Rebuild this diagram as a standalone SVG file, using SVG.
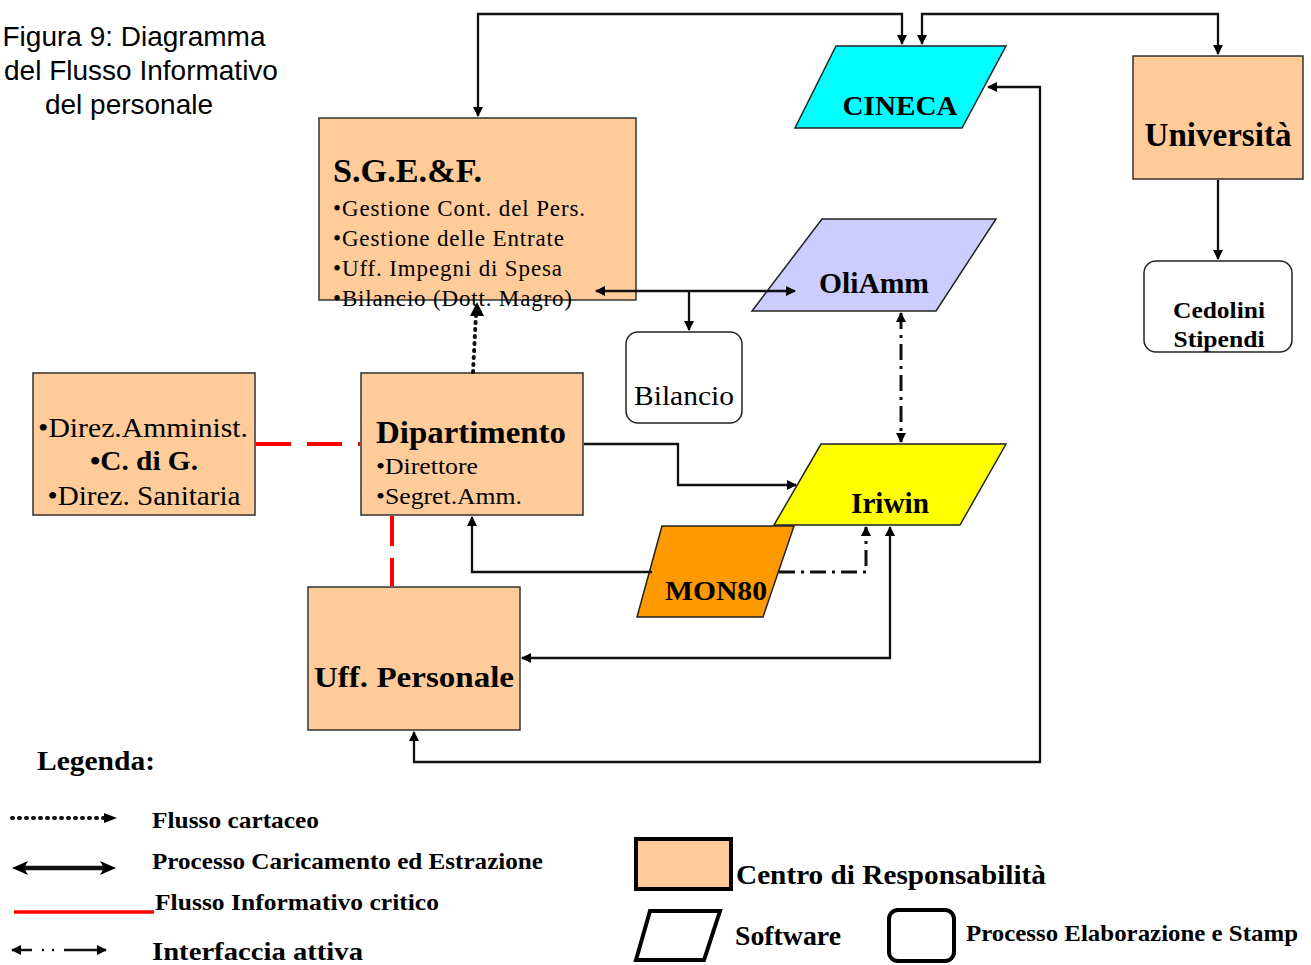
<svg xmlns="http://www.w3.org/2000/svg" width="1311" height="965" viewBox="0 0 1311 965">
<style>
.cr{fill:#FFCC99;stroke:#333;stroke-width:1.5}
.sw{stroke:#222;stroke-width:1.5}
.pr{fill:#fff;stroke:#222;stroke-width:1.5}
.t{font-family:"Liberation Serif",serif;fill:#000}
.b{font-weight:bold}
.ln{fill:none;stroke:#111;stroke-width:2.3}
.red{fill:none;stroke:#f00;stroke-width:4}
.dd{stroke-dasharray:16 6 3 6;stroke-width:3}
.dot{stroke-dasharray:1 6;stroke-linecap:round;stroke-width:4}
</style>
<defs>
<marker id="ah" viewBox="0 0 10 10" refX="9" refY="5" markerWidth="12" markerHeight="10" markerUnits="userSpaceOnUse" orient="auto-start-reverse">
<path d="M0,0 L10,5 L0,10 Z" fill="#000"/>
</marker>
<marker id="ahb" viewBox="0 0 10 10" refX="9" refY="5" markerWidth="16" markerHeight="13" markerUnits="userSpaceOnUse" orient="auto-start-reverse">
<path d="M0,0 L10,5 L0,10 L3,5 Z" fill="#000"/>
</marker>
</defs>
<rect width="1311" height="965" fill="#fff"/>
<g id="title" font-family="Liberation Sans, Arial, sans-serif" font-size="28" text-anchor="middle" fill="#000">
<text x="134" y="46">Figura 9: Diagramma</text>
<text x="141" y="80">del Flusso Informativo</text>
<text x="129" y="114">del personale</text>
</g>
<g id="sgef">
<rect class="cr" x="319" y="118" width="317" height="182"/>
<text class="t b" x="333" y="182" font-size="33" textLength="149" lengthAdjust="spacingAndGlyphs">S.G.E.&amp;F.</text>
<g class="t" font-size="23">
<text x="333" y="216" textLength="252">•Gestione Cont. del Pers.</text>
<text x="333" y="246" textLength="231">•Gestione delle Entrate</text>
<text x="333" y="276" textLength="229">•Uff. Impegni di Spesa</text>
<text x="333" y="306" textLength="239">•Bilancio (Dott. Magro)</text>
</g>
</g>
<g id="cineca">
<path class="sw" d="M836,46 H1006 L962,128 H795 Z" fill="#00FFFF"/>
<text class="t b" x="900" y="115" font-size="28" text-anchor="middle" textLength="115" lengthAdjust="spacingAndGlyphs">CINECA</text>
</g>
<g id="universita">
<rect class="cr" x="1133" y="56" width="170" height="123"/>
<text class="t b" x="1218" y="146" font-size="33" text-anchor="middle" textLength="147" lengthAdjust="spacingAndGlyphs">Università</text>
</g>
<g id="cedolini">
<rect class="pr" x="1144" y="261" width="148" height="91" rx="12"/>
<text class="t b" x="1219" y="318" font-size="24" text-anchor="middle" textLength="92" lengthAdjust="spacingAndGlyphs">Cedolini</text>
<text class="t b" x="1219" y="347" font-size="24" text-anchor="middle" textLength="91" lengthAdjust="spacingAndGlyphs">Stipendi</text>
</g>
<g id="oliamm">
<path class="sw" d="M822,219 H996 L936,311 H752 Z" fill="#CCCCFF"/>
<text class="t b" x="874" y="293" font-size="29" text-anchor="middle" textLength="110" lengthAdjust="spacingAndGlyphs">OliAmm</text>
</g>
<g id="bilancio">
<rect class="pr" x="626" y="332" width="116" height="91" rx="12"/>
<text class="t" x="684" y="405" font-size="27" text-anchor="middle" textLength="100" lengthAdjust="spacingAndGlyphs">Bilancio</text>
</g>
<g id="iriwin">
<path class="sw" d="M821,444 H1006 L960,525 H774 Z" fill="#FFFF00"/>
<text class="t b" x="890" y="513" font-size="29" text-anchor="middle" textLength="78" lengthAdjust="spacingAndGlyphs">Iriwin</text>
</g>
<g id="direzioni">
<rect class="cr" x="33" y="373" width="222" height="142"/>
<text class="t" x="143" y="437" font-size="27" text-anchor="middle" textLength="210" lengthAdjust="spacingAndGlyphs">•Direz.Amminist.</text>
<text class="t b" x="144" y="470" font-size="27" text-anchor="middle" textLength="108" lengthAdjust="spacingAndGlyphs">•C. di G.</text>
<text class="t" x="144" y="505" font-size="27" text-anchor="middle" textLength="193" lengthAdjust="spacingAndGlyphs">•Direz. Sanitaria</text>
</g>
<g id="dipartimento">
<rect class="cr" x="361" y="373" width="222" height="142"/>
<text class="t b" x="376" y="443" font-size="32" textLength="190" lengthAdjust="spacingAndGlyphs">Dipartimento</text>
<text class="t" x="376" y="474" font-size="23" textLength="102" lengthAdjust="spacingAndGlyphs">•Direttore</text>
<text class="t" x="376" y="504" font-size="23" textLength="146" lengthAdjust="spacingAndGlyphs">•Segret.Amm.</text>
</g>
<g id="mon80">
<path class="sw" d="M662,526 H794 L763,617 H637 Z" fill="#FF9900"/>
<text class="t b" x="716" y="600" font-size="28" text-anchor="middle" textLength="102" lengthAdjust="spacingAndGlyphs">MON80</text>
</g>
<g id="uffpersonale">
<rect class="cr" x="308" y="587" width="212" height="143"/>
<text class="t b" x="414" y="687" font-size="30" text-anchor="middle" textLength="200" lengthAdjust="spacingAndGlyphs">Uff. Personale</text>
</g>
<g id="connectors">
<path class="ln" d="M478,116 V14 H902 V44" marker-start="url(#ah)" marker-end="url(#ah)"/>
<path class="ln" d="M922,44 V14 H1218 V54" marker-start="url(#ah)" marker-end="url(#ah)"/>
<path class="ln" d="M1218,180 V259" marker-end="url(#ah)"/>
<path class="ln" d="M988,87 H1040 V762 H414 V732" marker-start="url(#ah)" marker-end="url(#ah)"/>
<path class="ln" d="M596,291 H795" stroke-width="2.8" marker-start="url(#ah)" marker-end="url(#ah)"/>
<path class="ln" d="M689,291 V330" stroke-width="2" marker-end="url(#ah)"/>
<path class="ln dd" d="M901,313 V442" marker-start="url(#ah)" marker-end="url(#ah)"/>
<path class="ln" d="M584,444 H678 V485 H796" marker-end="url(#ah)"/>
<path class="ln" d="M652,572 H472 V517" marker-end="url(#ah)"/>
<path class="ln dd" d="M779,572 H866 V527" marker-end="url(#ah)"/>
<path class="ln" d="M522,658 H890 V527" marker-start="url(#ah)" marker-end="url(#ah)"/>
<path class="ln dot" d="M473,372 L476,314"/>
<path d="M470,316 L477,302 L484,316 Z" fill="#000"/>
<path class="red" d="M256,444 H360" stroke-dasharray="35 16"/>
<path class="red" d="M392,516 V586" stroke-dasharray="30 12"/>
</g>
<g id="legend">
<text class="t b" x="37" y="770" font-size="27" textLength="118" lengthAdjust="spacingAndGlyphs">Legenda:</text>
<path class="ln dot" d="M12,818 H104" stroke-width="3.5"/>
<path d="M104,813 L117,818 L104,823 Z" fill="#000"/>
<text class="t b" x="152" y="828" font-size="23" textLength="167" lengthAdjust="spacingAndGlyphs">Flusso cartaceo</text>
<path d="M22,868 H106" stroke="#111" stroke-width="4.5"/>
<path d="M12,868 L28,861 L24,868 L28,875 Z M116,868 L100,861 L104,868 L100,875 Z" fill="#000"/>
<text class="t b" x="152" y="869" font-size="23" textLength="391" lengthAdjust="spacingAndGlyphs">Processo Caricamento ed Estrazione</text>
<path d="M14,912 H154" stroke="#f00" stroke-width="3.5"/>
<text class="t b" x="155" y="910" font-size="23" textLength="284" lengthAdjust="spacingAndGlyphs">Flusso Informativo critico</text>
<path class="ln" d="M12,950 H106" stroke-width="2.5" stroke-dasharray="20 10 2 8 2 10 42" marker-start="url(#ah)" marker-end="url(#ah)"/>
<text class="t b" x="152" y="960" font-size="25" textLength="211" lengthAdjust="spacingAndGlyphs">Interfaccia attiva</text>
<rect x="636" y="839" width="95" height="50" fill="#FFCC99" stroke="#000" stroke-width="4"/>
<text class="t b" x="736" y="884" font-size="27" textLength="310" lengthAdjust="spacingAndGlyphs">Centro di Responsabilità</text>
<path d="M650,911 H720 L704,960 H636 Z" fill="#fff" stroke="#000" stroke-width="4"/>
<text class="t b" x="735" y="945" font-size="27" textLength="106" lengthAdjust="spacingAndGlyphs">Software</text>
<rect x="889" y="910" width="65" height="51" rx="9" fill="#fff" stroke="#000" stroke-width="4"/>
<text class="t b" x="966" y="941" font-size="23" textLength="332" lengthAdjust="spacingAndGlyphs">Processo Elaborazione e Stamp</text>
</g>
</svg>
